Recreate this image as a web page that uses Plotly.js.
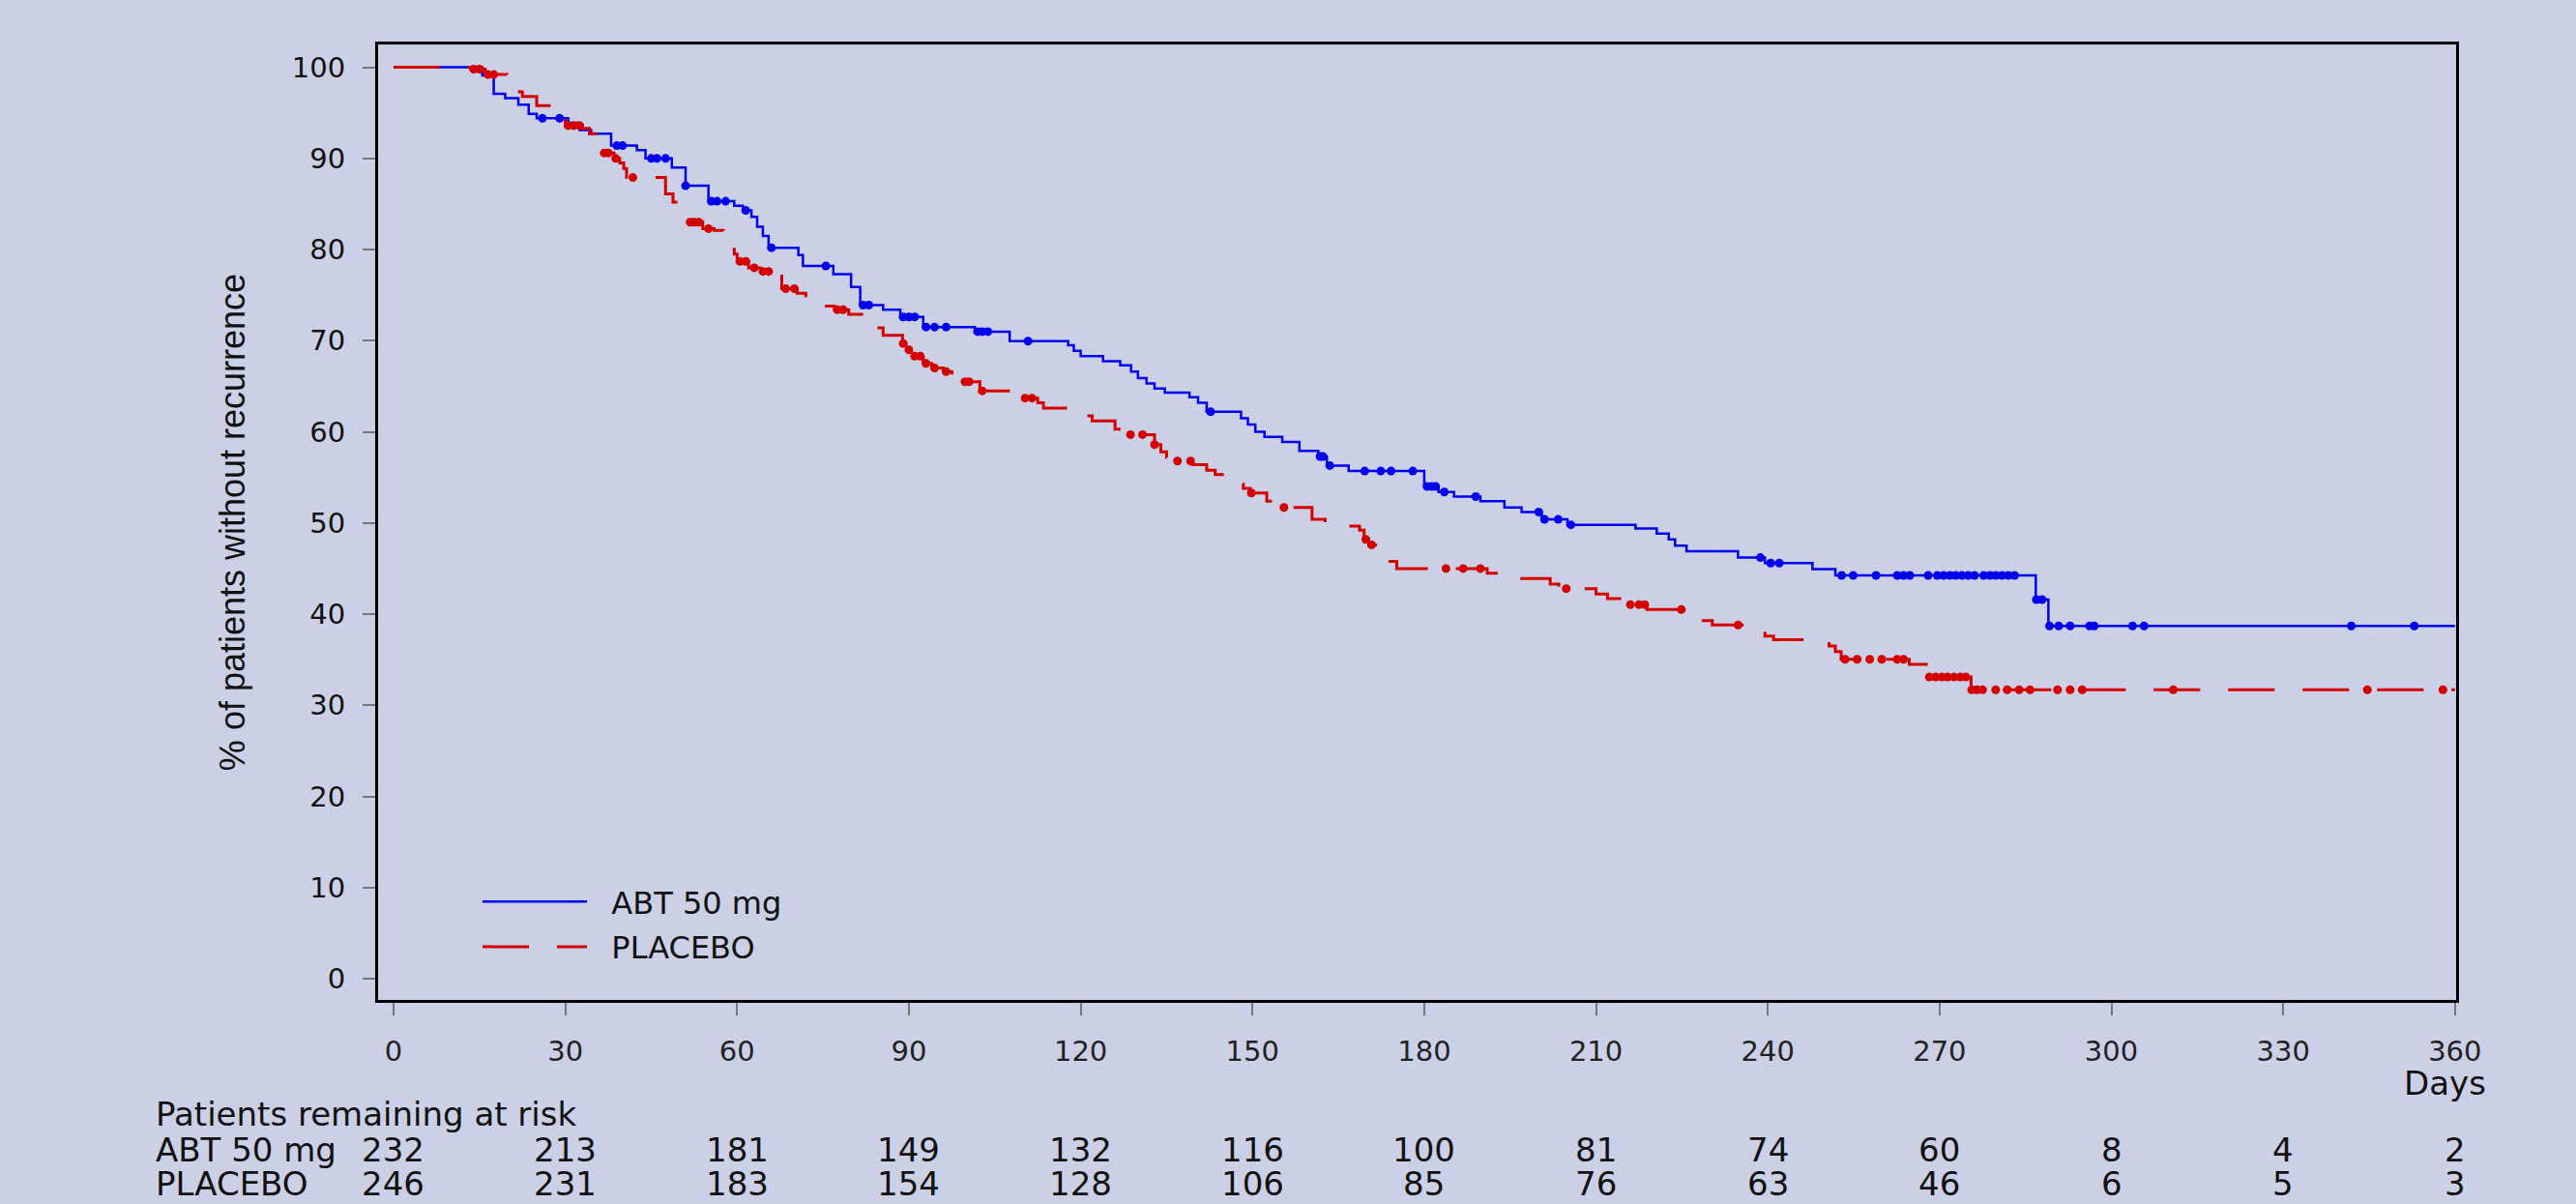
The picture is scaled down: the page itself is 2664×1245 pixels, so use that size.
<!DOCTYPE html>
<html>
<head>
<meta charset="utf-8">
<script src="https://cdn.plot.ly/plotly-3.0.1.min.js"></script>
<style>
  html, body { margin: 0; padding: 0; background: #cbd0e6; }
  #chart { width: 2664px; height: 1245px; }
</style>
</head>
<body>
<div id="chart"></div>
<script>
// ---- Kaplan-Meier step data (day, % without recurrence after the step) ----
const abtDays = [0, 15.5, 17.5, 19.5, 21.8, 23.6, 25, 30.5, 32.5, 34.5, 38, 42.5, 44, 48.6, 51, 55, 59.5, 61, 62.5, 63.5, 64.5, 65.5, 70.7, 71.5, 76.8, 79.9, 81.5, 85.5, 88.5, 92.5, 101.5, 107.6, 117.8, 118.8, 120, 123.9, 126.9, 128.8, 130, 131.5, 132.9, 134.7, 139, 140.5, 142, 148, 149.2, 150.5, 152.1, 155.2, 158.2, 161.5, 163, 166.8, 180, 182.5, 185.2, 189.8, 194, 197, 200.5, 205, 216.9, 220.6, 222.7, 223.8, 225.8, 234.8, 239.5, 247.8, 251.8, 286.8, 289, 360];
const abtPct  = [100, 99.1, 97.1, 96.6, 95.9, 94.9, 94.4, 93.9, 93.1, 92.7, 91.4, 90.9, 90.0, 89.0, 87.0, 85.3, 84.8, 84.3, 83.6, 82.5, 81.5, 80.2, 79.4, 78.2, 77.3, 75.9, 73.9, 73.4, 72.6, 71.5, 71.0, 69.95, 69.5, 68.9, 68.3, 67.75, 67.3, 66.6, 65.9, 65.3, 64.75, 64.3, 63.8, 63.2, 62.2, 61.5, 60.8, 60.0, 59.45, 58.9, 57.9, 57.3, 56.3, 55.7, 54.0, 53.4, 52.9, 52.4, 51.7, 51.2, 50.4, 49.8, 49.4, 48.85, 48.2, 47.5, 46.9, 46.2, 45.6, 44.95, 44.25, 41.6, 38.7, 38.7];
const abtCensored = [26, 29, 39, 40, 45, 46, 47.5, 51, 55.5, 56.5, 58, 61.5, 66, 75.5, 82, 83, 89, 90, 91, 93, 94.5, 96.5, 102, 102.8, 103.8, 110.8, 142.7, 161.8, 162.3, 163.5, 169.6, 172.4, 174.2, 178, 180.5, 181.3, 182, 183.5, 189, 200, 201, 203.4, 205.6, 238.7, 240.5, 242, 252.9, 254.9, 258.9, 262.6, 263.7, 264.8, 268.0, 269.6, 270.7, 271.8, 272.8, 273.9, 275.0, 276.1, 277.7, 278.8, 279.8, 280.9, 282.0, 283.1, 286.9, 287.9, 289.2, 290.8, 292.8, 296.2, 297, 303.7, 305.7, 341.9, 352.9];

const pboDays = [0, 13.5, 16, 19.8, 21, 22, 22.5, 25, 28.6, 29.5, 30, 33, 34.2, 35.3, 36.5, 38.5, 39.5, 40.2, 40.7, 47.5, 48.8, 50.2, 51.5, 54, 56, 57.6, 58.5, 59.5, 60, 62, 64, 66, 67.8, 70.5, 72, 75, 77, 79.5, 83.6, 84.5, 85.5, 88.9, 89.5, 90.5, 92.5, 94, 96, 97.5, 99.5, 102.4, 110, 112.5, 113.5, 117.8, 122, 126, 128.7, 132.9, 134, 135, 136, 139.5, 142, 143.5, 146, 148.4, 149.6, 152.5, 155.5, 160.4, 162.7, 168.7, 169.5, 170.3, 172.9, 174, 175.2, 191, 196, 202, 203.5, 210, 212, 215.6, 218.9, 228.7, 230.3, 237.3, 239.5, 241, 247, 250.7, 251.8, 252.8, 264.7, 268, 275.5, 360];
const pboPct  = [100, 99.8, 99.2, 98.6, 97.8, 97.3, 96.8, 95.8, 95.4, 94.85, 93.6, 93.3, 92.7, 92.2, 90.6, 90.0, 89.5, 88.9, 87.9, 86.1, 85.2, 84.2, 83.0, 82.3, 82.1, 80.85, 80.2, 79.5, 78.7, 78.0, 77.6, 77.1, 75.7, 75.2, 74.5, 73.8, 73.4, 72.9, 72.2, 71.4, 70.6, 69.7, 69.0, 68.3, 67.5, 67.0, 66.6, 66.0, 65.5, 64.5, 63.7, 63.2, 62.6, 61.75, 61.2, 60.3, 59.7, 58.6, 57.8, 57.2, 56.8, 56.4, 55.8, 55.3, 54.25, 53.8, 53.3, 52.4, 51.7, 50.4, 49.65, 49.2, 48.2, 47.6, 46.6, 45.8, 45.0, 44.5, 43.9, 43.3, 42.8, 42.2, 41.7, 41.05, 40.5, 39.3, 38.8, 38.1, 37.6, 37.2, 37.0, 36.5, 35.9, 35.05, 34.5, 33.1, 31.7, 31.7];
const pboCensored = [14, 15, 16.5, 17.5, 30.5, 31.5, 32.5, 36.8, 37.5, 38.8, 41.8, 51.8, 52.5, 53.3, 55, 60.5, 61.5, 63, 64.5, 65.5, 68.5, 70, 77.5, 78.5, 89, 90, 91, 92, 93, 94.5, 96.5, 99.8, 100.5, 102.8, 110.3, 111.5, 128.7, 130.8, 132.9, 136.9, 139.2, 149.8, 155.5, 169.8, 170.8, 183.8, 186.8, 189.8, 204.8, 216, 217.5, 218.5, 224.9, 234.8, 253.5, 255.6, 257.8, 259.9, 262.6, 263.7, 268.2, 269.3, 270.4, 271.4, 272.5, 273.6, 274.6, 275.6, 276.5, 277.5, 279.8, 281.8, 283.9, 285.8, 290.6, 292.8, 294.9, 310.8, 344.7, 357.9];

// ---- Risk table ----
const riskDays    = [0, 30, 60, 90, 120, 150, 180, 210, 240, 270, 300, 330, 360];
const abtRisk     = [232, 213, 181, 149, 132, 116, 100, 81, 74, 60, 8, 4, 2];
const placeboRisk = [246, 231, 183, 154, 128, 106, 85, 76, 63, 46, 6, 5, 3];

const seriesNames = ['ABT 50 mg', 'PLACEBO'];
const xTicks = [0, 30, 60, 90, 120, 150, 180, 210, 240, 270, 300, 330, 360];
const yTicks = [0, 10, 20, 30, 40, 50, 60, 70, 80, 90, 100];

// value of step function at day d
function stepAt(days, vals, d) {
  let v = vals[0];
  for (let i = 0; i < days.length; i++) { if (days[i] <= d + 1e-9) v = vals[i]; else break; }
  return v;
}

const BLUE = '#0000f0', RED = '#d40000';
const FONT = 'DejaVu Sans, Verdana, sans-serif';
const NBSP = '\u00a0\u00a0';

const traces = [
  { x: abtDays, y: abtPct, type: 'scatter', mode: 'lines', name: NBSP + seriesNames[0],
    line: { shape: 'hv', color: BLUE, width: 2.5 }, legendgroup: 'a' },
  { x: pboDays, y: pboPct, type: 'scatter', mode: 'lines', name: NBSP + seriesNames[1],
    line: { shape: 'hv', color: RED, width: 3, dash: '48px,29px' }, legendgroup: 'b' },
  { x: abtCensored, y: abtCensored.map(d => stepAt(abtDays, abtPct, d)), type: 'scatter', mode: 'markers',
    showlegend: false, marker: { color: BLUE, size: 9, symbol: 'circle' }, hoverinfo: 'x+y' },
  { x: pboCensored, y: pboCensored.map(d => stepAt(pboDays, pboPct, d)), type: 'scatter', mode: 'markers',
    showlegend: false, marker: { color: RED, size: 9, symbol: 'circle' }, hoverinfo: 'x+y' }
];

const plotH = 1245 - 46 - 211;
function paperY(px) { return (1034 - px) / plotH; }
const plotW = 2664 - 391 - 124;
function paperX(px) { return (px - 391) / plotW; }

const TXT = { family: FONT, size: 34, color: '#111' };
const annotations = [];
annotations.push({ text: 'Patients remaining at risk', xref: 'paper', yref: 'paper', x: paperX(159), y: paperY(1152),
  xanchor: 'left', yanchor: 'middle', showarrow: false, font: TXT });
annotations.push({ text: seriesNames[0], xref: 'paper', yref: 'paper', x: paperX(159), y: paperY(1189),
  xanchor: 'left', yanchor: 'middle', showarrow: false, font: TXT });
annotations.push({ text: seriesNames[1], xref: 'paper', yref: 'paper', x: paperX(159), y: paperY(1224),
  xanchor: 'left', yanchor: 'middle', showarrow: false, font: TXT });
riskDays.forEach((d, i) => {
  annotations.push({ text: String(abtRisk[i]), xref: 'x', yref: 'paper', x: d, y: paperY(1189),
    xanchor: 'center', yanchor: 'middle', showarrow: false, font: TXT });
  annotations.push({ text: String(placeboRisk[i]), xref: 'x', yref: 'paper', x: d, y: paperY(1224),
    xanchor: 'center', yanchor: 'middle', showarrow: false, font: TXT });
});
annotations.push({ text: 'Days', xref: 'x', yref: 'paper', x: 360, y: paperY(1120), xshift: -10,
  xanchor: 'center', yanchor: 'middle', showarrow: false, font: { family: FONT, size: 34, color: '#111' } });

const layout = {
  width: 2664, height: 1245,
  paper_bgcolor: '#cbd0e6', plot_bgcolor: '#cbd0e6',
  margin: { l: 391, r: 124, t: 46, b: 211, pad: 0 },
  showlegend: true,
  legend: { x: paperX(494), y: paperY(905), xanchor: 'left', yanchor: 'top',
    bgcolor: 'rgba(0,0,0,0)', font: { family: FONT, size: 32, color: '#111' },
    itemwidth: 108, tracegroupgap: 2 },
  xaxis: { range: [-2.7, 360.2], tickvals: xTicks, ticktext: xTicks.map(String),
    showgrid: false, zeroline: false, showline: true, mirror: true, linecolor: '#000', linewidth: 3,
    ticks: 'outside', ticklen: 13, tickwidth: 2, tickcolor: '#777',
    tickfont: { family: FONT, size: 29, color: '#222' }, ticklabelstandoff: 12 },
  yaxis: { range: [-2.33, 102.5], tickvals: yTicks, ticktext: yTicks.map(String),
    showgrid: false, zeroline: false, showline: true, mirror: true, linecolor: '#000', linewidth: 3,
    ticks: 'outside', ticklen: 13, tickwidth: 2, tickcolor: '#777',
    tickfont: { family: FONT, size: 29, color: '#111' }, ticklabelstandoff: 12,
    title: { text: '% of patients without recurrence', standoff: 38,
      font: { family: 'Liberation Sans, Arial, sans-serif', size: 36, color: '#111' } },
    automargin: true },
  annotations: annotations
};

Plotly.newPlot('chart', traces, layout, { staticPlot: true, displayModeBar: false });
</script>
</body>
</html>
